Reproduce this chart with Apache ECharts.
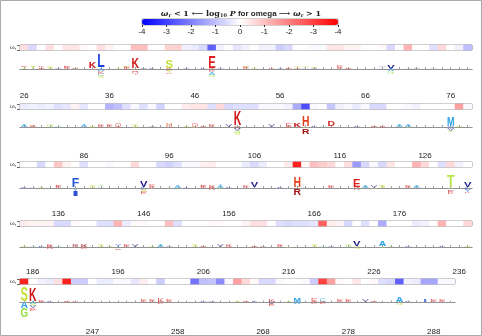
<!DOCTYPE html>
<html>
<head>
<meta charset="utf-8">
<script src="https://cdn.jsdelivr.net/npm/echarts@6/dist/echarts.min.js"></script>
<style>
  html, body { margin: 0; padding: 0; background: #fff; }
  #chart { width: 482px; height: 336px; }
</style>
</head>
<body>
<div id="chart"></div>
<script>
// first sequence position of panels 1-4 (53 sites each)
const rowStarts = [26, 79, 132, 185];
const rowLength = 53;
// last panel skips position 249
const row5Positions = [239, 240, 241, 242, 243, 244, 245, 246, 247, 248,
  250, 251, 252, 253, 254, 255, 256, 257, 258, 259, 260, 261, 262, 263, 264, 265,
  266, 267, 268, 269, 270, 271, 272, 273, 274, 275, 276, 277, 278, 279, 280, 281,
  282, 283, 284, 285, 286, 287, 288, 289, 290];

const tickLabels1 = [26, 36, 46, 56, 66, 76];
const tickLabels2 = [86, 96, 106, 116, 126];
const tickLabels3 = [136, 146, 156, 166, 176];
const tickLabels4 = [186, 196, 206, 216, 226, 236];
const tickLabels5 = [247, 258, 268, 278, 288];

// signed log10 P for omega (negative = omega < 1, positive = omega > 1)
const omega1 = [0.5, -0.6, 0, 0.5, 0, 0.4, 0.4, 0.1, 0, 0.5, 0.2, 0, 0, 1.0, 1.0, 0, 0, 0.7, 0.7, -0.2,
  -0.3, -0.6, -2.5, -0.2, 0, -0.4, -0.2, 0, -0.2, -0.2, -0.8, -0.6, 0, 0, -0.1, -0.1, 0.4, 0.4, 0.2, 0.2,
  0, 0, 0.1, -0.6, 0, 1.2, 0, 0, -0.5, 0.6, 0, -0.2, -1.0];
const omega2 = [-0.3, -0.2, -0.3, -0.2, -0.5, -0.4, 0.2, -0.4, 0, 0, -1.2, -1.0, -0.5, -0.1, -0.5, -0.1, -0.7, 0, 0, 0.3,
  0.4, 0.4, -0.5, 0.6, -0.6, -0.5, -0.5, -0.5, -0.1, -0.1, -0.1, -0.2, -1.3, -2.8, -0.1, 0, -0.9, -0.2, -0.1, -0.3,
  -0.1, -0.6, -0.6, 0, 0, -0.1, -0.2, 0, 0, 0, 0, 1.5, -0.1];
const omega3 = [0, 0, -0.6, 0, 0.9, 0.2, 0, -0.5, 0, 0, -0.1, 0, 0, 0.6, 0, 0, -0.6, -0.7, -0.5, -0.1,
  -0.1, 0.2, 0.3, 0, 0, 0, -0.3, -0.6, -0.3, 0, 0, 0.3, 3.5, 0.1, 1.0, 0.8, 0.6, 0, 0.5, -1.6,
  -0.6, -0.1, -0.6, 0.4, 0, 0, 1.2, 0.6, 0, -0.5, 0.6, -0.2, 0];
const omega4 = [0.3, 0.2, 0.2, 0.2, -0.6, -0.6, 0.1, 0, 0, -0.5, -0.5, 1.2, -0.3, 0.1, 0.1, 0, 0, 1.0, -0.5, 0,
  0, 0, 0.1, 0.1, 0, 0, 0.2, 0.5, 0.5, 0, -0.5, -0.6, -0.5, -0.5, -0.4, 2.5, 0.3, 0.2, -0.6, 0,
  -0.5, 0, -1.3, 0, 0, 0, -0.3, -0.2, 0, 1.2, 0, 0, 0.6];
const omega5 = [3.5, 0, -0.2, -0.3, 0.5, 3.5, -0.8, -0.8, 0, -0.3, -0.3, -0.1, -0.1, -0.4, 0.3, 0, -0.8, 0, 0, 0,
  -2.2, -1.0, -0.9, -1.8, -0.1, 1.5, 0.6, 0.1, -0.6, -0.6, -0.1, 0, 0, -0.1, -0.8, 3.0, 1.5, 0.1, 0, 0.4,
  0, 0.1, -0.5, -0.6, -2.5, -0.2, -0.3, -1.4, -1.4, -0.1, -0.1];

// logo letters: [position, residue, height in bits]; + stacks up, - stacks down
const logo1 = [[26, 'S', 0.15], [26, 'E', 0.12], [27, 'T', 0.2], [27, 'S', 0.1], [28, 'E', 0.15], [28, 'K', 0.12],
  [28, 'Q', -0.15], [29, 'S', 0.2], [30, 'V', 0.15], [31, 'E', 0.2], [31, 'K', 0.1], [32, 'R', 0.18], [32, 'N', -0.12],
  [34, 'K', 0.6], [34, 'Q', -0.15], [35, 'L', 1.35], [35, 'A', -0.25], [35, 'K', -0.25], [35, 'C', -0.25], [35, 'S', -0.2],
  [37, 'T', 0.15], [38, 'E', 0.2], [38, 'S', 0.1], [38, 'K', -0.15], [39, 'K', 1.0], [39, 'E', -0.15], [39, 'R', -0.15],
  [39, 'Q', -0.2], [40, 'V', 0.1], [41, 'L', 0.08], [43, 'S', 0.8], [43, 'E', -0.2], [43, 'T', -0.2], [43, 'K', -0.15],
  [45, 'V', 0.05], [47, 'L', 0.1], [48, 'E', 1.15], [48, 'D', -0.2], [48, 'K', -0.15], [48, 'A', -0.25], [48, 'G', -0.2],
  [49, 'V', 0.06], [52, 'E', 0.2], [52, 'S', 0.15], [53, 'S', 0.15], [55, 'K', 0.15], [56, 'V', 0.15], [56, 'A', -0.15],
  [57, 'E', 0.12], [58, 'Q', 0.15], [58, 'S', 0.1], [59, 'A', 0.15], [59, 'S', 0.1], [59, 'E', -0.15], [60, 'V', 0.12],
  [60, 'S', 0.1], [63, 'E', 0.25], [63, 'K', 0.15], [64, 'E', 0.12], [68, 'A', 0.15], [68, 'V', 0.08], [69, 'V', 0.4],
  [69, 'A', -0.2], [69, 'G', -0.3], [71, 'A', 0.15], [72, 'V', 0.1], [72, 'S', -0.1], [74, 'A', 0.12]];
const logo2 = [[79, 'A', 0.2], [80, 'E', 0.12], [80, 'K', 0.08], [82, 'G', 0.3], [83, 'A', 0.12], [86, 'A', 0.25],
  [87, 'S', 0.15], [87, 'T', -0.12], [88, 'E', 0.25], [88, 'K', -0.1], [89, 'E', 0.2], [90, 'Q', 0.35], [90, 'E', -0.12],
  [92, 'S', 0.2], [92, 'T', -0.12], [94, 'V', 0.1], [96, 'H', 0.35], [96, 'K', -0.12], [98, 'S', 0.15], [99, 'Q', 0.35],
  [99, 'S', -0.15], [100, 'E', 0.15], [101, 'E', 0.25], [103, 'V', 0.2], [104, 'K', 1.5], [104, 'R', -0.25],
  [104, 'V', -0.2], [104, 'G', -0.2], [104, 'S', -0.2], [108, 'V', 0.2], [110, 'E', 0.35], [110, 'K', -0.12],
  [111, 'K', 0.4], [111, 'E', -0.1], [112, 'H', 1.1], [112, 'S', -0.15], [112, 'G', -0.15], [112, 'R', -0.45],
  [113, 'L', 0.12], [114, 'A', 0.15], [115, 'D', 0.55], [115, 'E', -0.12], [118, 'L', 0.05], [120, 'E', 0.15],
  [121, 'E', 0.15], [121, 'K', -0.1], [123, 'A', 0.2], [124, 'A', 0.2], [124, 'S', -0.1], [129, 'M', 0.85],
  [129, 'Y', -0.2], [129, 'V', -0.2], [129, 'S', -0.15], [130, 'S', 0.12]];
const logo3 = [[132, 'L', 0.08], [133, 'A', 0.1], [134, 'G', 0.15], [136, 'E', 0.2], [136, 'K', 0.1], [138, 'F', 0.85],
  [138, 'Y', -0.3], [138, 'I', -0.55], [140, 'S', 0.2], [141, 'A', 0.15], [141, 'G', 0.1], [146, 'V', 0.65],
  [146, 'L', -0.2], [146, 'S', -0.2], [146, 'E', -0.2], [147, 'E', 0.25], [147, 'K', 0.15], [147, 'T', -0.12],
  [150, 'A', 0.3], [151, 'Y', 0.15], [151, 'V', -0.12], [153, 'E', 0.2], [153, 'K', 0.1], [154, 'E', 0.3],
  [154, 'K', -0.2], [155, 'A', 0.25], [155, 'Y', 0.1], [155, 'S', -0.15], [156, 'L', 0.08], [158, 'E', 0.2],
  [159, 'V', 0.5], [159, 'A', -0.15], [162, 'L', 0.05], [164, 'H', 1.1], [164, 'K', -0.15], [164, 'R', -0.6],
  [165, 'A', 0.12], [168, 'E', 0.25], [168, 'A', -0.12], [171, 'E', 0.75], [171, 'K', -0.2], [172, 'A', 0.2],
  [173, 'V', 0.25], [173, 'S', -0.15], [174, 'S', 0.2], [174, 'T', 0.1], [177, 'E', 0.2], [178, 'A', 0.2],
  [178, 'K', -0.1], [182, 'T', 1.2], [182, 'S', -0.15], [182, 'V', -0.15], [182, 'E', -0.2], [182, 'K', -0.15],
  [184, 'V', 0.55], [184, 'L', -0.2], [184, 'Y', -0.2], [184, 'K', -0.15]];
const logo4 = [[185, 'S', 0.15], [186, 'A', 0.15], [187, 'L', 0.1], [188, 'E', 0.25], [188, 'K', -0.2], [189, 'A', 0.12],
  [191, 'R', 0.3], [191, 'K', -0.12], [192, 'R', 0.3], [192, 'E', -0.2], [194, 'S', 0.2], [195, 'G', 0.15],
  [196, 'Y', 0.3], [196, 'A', -0.15], [196, 'E', -0.12], [197, 'E', 0.25], [198, 'V', 0.2], [200, 'G', 0.15],
  [201, 'A', 0.2], [202, 'V', 0.15], [205, 'S', 0.2], [206, 'E', 0.15], [208, 'V', 0.2], [208, 'S', -0.1],
  [209, 'K', 0.3], [209, 'E', -0.15], [212, 'E', 0.15], [213, 'K', 0.12], [215, 'E', 0.2], [216, 'S', -0.15],
  [219, 'S', 0.2], [220, 'A', 0.1], [221, 'V', 0.1], [223, 'G', 0.2], [224, 'V', 0.45], [224, 'S', -0.2],
  [227, 'A', 0.5], [227, 'G', -0.15], [228, 'G', 0.15], [230, 'L', 0.08], [234, 'L', 0.1], [237, 'S', 0.15]];
const logo5 = [[239, 'S', 1.5], [239, 'A', -0.6], [239, 'G', -1.0], [240, 'K', 1.4], [240, 'A', -0.2], [240, 'S', -0.2],
  [240, 'V', -0.2], [240, 'E', -0.3], [241, 'E', 0.15], [241, 'K', 0.1], [242, 'L', 0.08], [244, 'E', 0.15],
  [245, 'K', 0.1], [254, 'E', 0.25], [255, 'E', 0.25], [256, 'K', 0.35], [256, 'E', -0.2], [257, 'E', 0.2],
  [261, 'L', 0.08], [262, 'V', 0.12], [265, 'S', 0.15], [266, 'E', 0.15], [267, 'L', 0.1], [269, 'K', 0.25],
  [269, 'V', -0.2], [269, 'E', -0.2], [271, 'S', 0.15], [272, 'M', 0.45], [272, 'A', -0.2], [274, 'E', 0.35],
  [274, 'K', -0.15], [275, 'C', 0.35], [275, 'E', -0.2], [277, 'E', 0.2], [278, 'E', 0.2], [280, 'V', 0.25],
  [281, 'E', 0.15], [284, 'A', 0.5], [284, 'G', -0.25], [285, 'L', 0.1], [287, 'I', 0.3], [288, 'E', 0.25],
  [289, 'E', 0.2]];

const letterColors = {
  K: '#d01818', R: '#a01010', H: '#e0401a', E: '#e02020', D: '#d82828', Q: '#e03a3a',
  L: '#1d3fe0', V: '#1a1a8c', M: '#2c9fe6', F: '#2255d6', I: '#2a4fd0', Y: '#2a6ad8',
  A: '#22a2e8', C: '#30b0d0', S: '#c4e03a', T: '#b5e43c', G: '#8fe03a', N: '#a0d060'
};

const range = (a, n) => Array.from({ length: n }, (_, i) => a + i);
const rows = [
  { positions: range(rowStarts[0], rowLength), ticks: tickLabels1, omega: omega1, logo: logo1 },
  { positions: range(rowStarts[1], rowLength), ticks: tickLabels2, omega: omega2, logo: logo2 },
  { positions: range(rowStarts[2], rowLength), ticks: tickLabels3, omega: omega3, logo: logo3 },
  { positions: range(rowStarts[3], rowLength), ticks: tickLabels4, omega: omega4, logo: logo4 },
  { positions: row5Positions, ticks: tickLabels5, omega: omega5, logo: logo5 }
];

// layout (pixels)
const stripTop = [45, 104, 162, 221, 279];
const baseY = [69, 127, 188, 247, 303];
const axisY = [89, 149, 207, 265, 326];
const rightGap = [10, 10, 10, 10, 27];
const FONT = '"Liberation Sans", Arial, sans-serif';
const BIG_FONT = 'bold 10px "Liberation Sans", Arial, sans-serif';
const SMALL_FONT = '10px "Liberation Sans", Arial, sans-serif';

const ctx = document.createElement('canvas').getContext('2d');
const widthCache = {};
function measure(ch, font) {
  const key = font + ch;
  if (!widthCache[key]) { ctx.font = font; widthCache[key] = ctx.measureText(ch).width; }
  return widthCache[key];
}

function stackLogo(row) {
  const up = {}, down = {};
  return row.logo.map(([pos, ch, h]) => {
    const cat = row.positions.indexOf(pos);
    let y0;
    if (h >= 0) { y0 = up[pos] || 0; up[pos] = y0 + h; }
    else { y0 = down[pos] || 0; down[pos] = y0 + h; }
    return { cat, y0, y1: y0 + h, ch, small: Math.abs(h) < 0.4 };
  });
}

function letterRenderer(items) {
  return function (params, api) {
    const it = items[params.dataIndex];
    const a = api.coord([it.cat, it.y0]);
    const b = api.coord([it.cat, it.y1]);
    const cw = api.size([1, 0])[0];
    const h = Math.abs(a[1] - b[1]);
    const font = it.small ? SMALL_FONT : BIG_FONT;
    return {
      type: 'text',
      x: a[0],
      y: (a[1] + b[1]) / 2,
      scaleX: (cw * (it.small ? 0.8 : 0.88)) / measure(it.ch, font),
      scaleY: h / 7.16,
      style: {
        text: it.ch,
        font,
        fill: letterColors[it.ch] || '#888',
        opacity: it.small ? 0.7 : 1,
        textAlign: 'center',
        textVerticalAlign: 'middle'
      }
    };
  };
}

const grid = [], xAxis = [], yAxis = [], series = [], heatIdx = [];

rows.forEach((row, r) => {
  const cats = row.positions.map(String);
  // omega strip
  grid.push({ left: 20, right: rightGap[r], top: stripTop[r], height: 5, show: true,
    borderColor: '#808080', borderWidth: 1 });
  xAxis.push({ type: 'category', gridIndex: 2 * r, data: cats, show: false });
  yAxis.push({ type: 'category', gridIndex: 2 * r, data: ['w'],
    axisLine: { show: false }, axisTick: { show: true, length: 3, lineStyle: { color: '#666' } },
    axisLabel: { margin: 4, formatter: () => '{w|ω}{s|r}',
      rich: { w: { fontSize: 6, color: '#333', fontFamily: FONT }, s: { fontSize: 4, color: '#333', padding: [3, 0, 0, 0] } } } });
  heatIdx.push(series.length);
  series.push({ type: 'heatmap', xAxisIndex: 2 * r, yAxisIndex: 2 * r,
    data: row.omega.map((v, i) => [i, 0, v]), itemStyle: { borderWidth: 0 }, emphasis: { disabled: true } });

  // logo
  const depth = (axisY[r] - baseY[r]) / 10;
  grid.push({ left: 20, right: rightGap[r], top: baseY[r] - 20, height: axisY[r] - baseY[r] + 20 });
  xAxis.push({ type: 'category', gridIndex: 2 * r + 1, data: cats, boundaryGap: true,
    axisLine: { lineStyle: { color: '#666', width: 1 } },
    axisTick: { show: true, inside: true, length: 2, alignWithLabel: true, interval: 0,
      lineStyle: { color: '#888', width: 0.8 } },
    axisLabel: { interval: (i, v) => row.ticks.includes(+v), fontSize: 8, color: '#222', margin: 3, fontFamily: FONT } });
  yAxis.push({ type: 'value', gridIndex: 2 * r + 1, min: -depth, max: 2, show: false });
  const items = stackLogo(row);
  series.push({ type: 'custom', xAxisIndex: 2 * r + 1, yAxisIndex: 2 * r + 1,
    renderItem: letterRenderer(items), data: items.map(it => [it.cat, it.y0, it.y1]),
    markLine: { silent: true, symbol: 'none', label: { show: false },
      lineStyle: { color: '#b0b0b0', width: 0.6, type: 'solid' }, data: [{ yAxis: 0 }] },
    z: 3 });
});

// colour bar axis
grid.push({ left: 142, width: 196, top: 19, height: 6, show: true, borderColor: '#444', borderWidth: 0.5 });
xAxis.push({ type: 'value', gridIndex: 10, min: -4, max: 4, interval: 1,
  axisLine: { show: false }, splitLine: { show: false },
  axisTick: { show: true, length: 2, lineStyle: { color: '#333' } },
  axisLabel: { fontSize: 8, color: '#222', margin: 3, fontFamily: FONT,
    formatter: v => (v === 0 ? '0' : '-' + Math.abs(v)) } });
yAxis.push({ type: 'value', gridIndex: 10, show: false });

const chart = echarts.init(document.getElementById('chart'), null, { renderer: 'canvas' });
chart.setOption({
  animation: false,
  backgroundColor: '#fff',
  title: {
    left: 'center', top: 4,
    text: '{i|ω}{sub|r}{n| < 1 ⟵ log}{sub|10}{i| P}{s| for omega }{n|⟶ }{i|ω}{sub|r}{n| > 1}',
    textStyle: {
      rich: {
        i: { fontFamily: '"DejaVu Serif", serif', fontStyle: 'italic', fontSize: 8, color: '#222' },
        n: { fontFamily: '"DejaVu Serif", serif', fontSize: 8, color: '#222' },
        sub: { fontFamily: '"DejaVu Serif", serif', fontSize: 5, color: '#222', padding: [4, 0, 0, 0] },
        s: { fontFamily: FONT, fontSize: 8, color: '#222' }
      }
    }
  },
  visualMap: {
    type: 'continuous', min: -4, max: 4, orient: 'horizontal',
    left: 142, top: 19, itemWidth: 6, itemHeight: 196, padding: 0,
    calculable: false, seriesIndex: heatIdx,
    inRange: { color: ['#0000ff', '#ffffff', '#ff0000'] }
  },
  graphic: [{ type: 'rect', shape: { x: 0.5, y: 0.5, width: 481, height: 335 },
    style: { fill: 'none', stroke: '#aaa', lineWidth: 1 }, silent: true }],
  grid, xAxis, yAxis, series
});
</script>
</body>
</html>
